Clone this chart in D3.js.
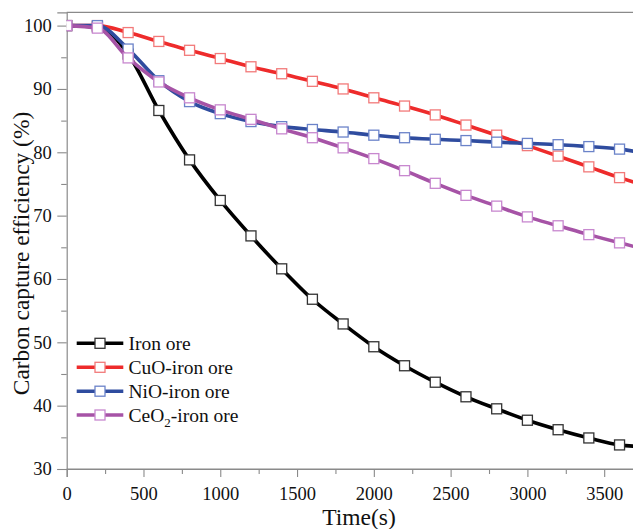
<!DOCTYPE html>
<html>
<head>
<meta charset="utf-8">
<script src="https://cdn.jsdelivr.net/npm/d3@7"></script>
<style>
  html, body { margin: 0; padding: 0; background: #fff; }
  svg { display: block; }
  text { font-family: "Liberation Serif", "Times New Roman", serif; fill: #111; }
</style>
</head>
<body>
<svg id="chart" width="633" height="529"></svg>
<script>
// Sampling times (s)
const times = [0, 200, 400, 600, 800, 1000, 1200, 1400, 1600, 1800, 2000,
               2200, 2400, 2600, 2800, 3000, 3200, 3400, 3600, 3800];

// Carbon capture efficiency (%) per sorbent
const ironOre = [100, 99.8, 95.5, 86.6, 78.8, 72.4, 66.8, 61.6, 56.8, 52.9, 49.3,
                 46.3, 43.7, 41.4, 39.5, 37.7, 36.2, 34.9, 33.8, 33.5];
const cuoIronOre = [100, 100, 98.9, 97.5, 96.1, 94.8, 93.5, 92.4, 91.2, 90.0, 88.6,
                    87.3, 85.9, 84.3, 82.7, 81.05, 79.4, 77.7, 76.0, 74.5];
const nioIronOre = [100, 100, 96.3, 91.3, 88.0, 86.1, 84.85, 84.05, 83.6, 83.2, 82.7,
                    82.3, 82.05, 81.85, 81.6, 81.4, 81.2, 80.9, 80.5, 79.7];
const ceo2IronOre = [100, 99.6, 94.9, 91.1, 88.6, 86.7, 85.2, 83.7, 82.3, 80.7, 79.0,
                     77.1, 75.1, 73.2, 71.5, 69.8, 68.4, 67.0, 65.7, 64.5];

const seriesNames = ["Iron ore", "CuO-iron ore", "NiO-iron ore", "CeO2-iron ore"];
const seriesValues = [ironOre, cuoIronOre, nioIronOre, ceo2IronOre];
const lineColors = ["#000000", "#ee2b2b", "#2f4c9f", "#a653a6"];
const markerColors = ["#333333", "#f27a7a", "#6b83c9", "#c888cf"];

const xTicks = [0, 500, 1000, 1500, 2000, 2500, 3000, 3500];
const yTicks = [30, 40, 50, 60, 70, 80, 90, 100];

const svg = d3.select("#chart");
const plotLeft = 66.7, plotTop = 12.3, plotBottom = 469, plotRight = 634.9;

const x = d3.scaleLinear().domain([0, 3700]).range([plotLeft, plotRight]);
const y = d3.scaleLinear().domain([30, 102.1]).range([plotBottom, plotTop]);

svg.append("defs").append("clipPath").attr("id", "plotClip")
  .append("rect").attr("x", plotLeft).attr("y", plotTop - 8)
  .attr("width", 633 - plotLeft).attr("height", plotBottom - plotTop + 16);

const axisColor = "#8a8a8a";

// Frame top edge
svg.append("line").attr("x1", plotLeft).attr("x2", 633).attr("y1", plotTop).attr("y2", plotTop)
  .attr("stroke", axisColor).attr("stroke-width", 1.2);

// X axis: major ticks with labels, minor ticks in between
svg.append("g").attr("transform", `translate(0,${plotBottom})`)
  .call(d3.axisBottom(x).tickValues(xTicks).tickSize(8).tickPadding(9.5).tickFormat(d3.format("d")));
svg.append("g").attr("transform", `translate(0,${plotBottom})`)
  .call(d3.axisBottom(x).tickValues(d3.range(250, 3700, 500)).tickSize(5).tickFormat(""))
  .call(g => g.select(".domain").remove());

// Y axis
svg.append("g").attr("transform", `translate(${plotLeft},0)`)
  .call(d3.axisLeft(y).tickValues(yTicks).tickSize(9.4).tickPadding(5.6).tickFormat(d3.format("d")));
svg.append("g").attr("transform", `translate(${plotLeft},0)`)
  .call(d3.axisLeft(y).tickValues(d3.range(35, 101, 10)).tickSize(5.5).tickFormat(""))
  .call(g => g.select(".domain").remove());

svg.selectAll(".domain").attr("stroke", axisColor).attr("stroke-width", 1.2);
svg.selectAll(".tick line").attr("stroke", axisColor).attr("stroke-width", 1.1);
svg.selectAll(".tick text").attr("font-family", "Liberation Serif, serif")
  .attr("font-size", 18.5).attr("fill", "#111");
// bottom axis line runs to the right edge
svg.append("line").attr("x1", plotLeft).attr("x2", 633).attr("y1", plotBottom).attr("y2", plotBottom)
  .attr("stroke", axisColor).attr("stroke-width", 1.2);

// Axis titles
svg.append("text").attr("x", 359).attr("y", 524.5)
  .attr("text-anchor", "middle").attr("font-size", 23.5).text("Time(s)");
svg.append("text")
  .attr("transform", "translate(28.5,253.5) rotate(-90)")
  .attr("text-anchor", "middle").attr("font-size", 23.4)
  .text("Carbon capture efficiency (%)");

// Series lines and markers
const plot = svg.append("g").attr("clip-path", "url(#plotClip)");
const line = d3.line().x((d, i) => x(times[i])).y(d => y(d)).curve(d3.curveMonotoneX);
const ms = 10;

seriesValues.forEach((vals, k) => {
  const g = plot.append("g");
  g.append("path").datum(vals).attr("d", line)
    .attr("fill", "none").attr("stroke", lineColors[k])
    .attr("stroke-width", 3.6).attr("stroke-linejoin", "round");
  g.selectAll("rect").data(vals).join("rect")
    .attr("x", (d, i) => x(times[i]) - ms / 2)
    .attr("y", d => y(d) - ms / 2)
    .attr("width", ms).attr("height", ms)
    .attr("fill", "#fff").attr("stroke", markerColors[k]).attr("stroke-width", 1.3);
});

// Legend
const legend = svg.append("g");
const legendY = [343.3, 367.3, 391.2, 415];
seriesNames.forEach((name, k) => {
  const ly = legendY[k];
  legend.append("line").attr("x1", 76.7).attr("x2", 123.3).attr("y1", ly).attr("y2", ly)
    .attr("stroke", lineColors[k]).attr("stroke-width", 3.6);
  legend.append("rect").attr("x", 100 - ms / 2).attr("y", ly - ms / 2)
    .attr("width", ms).attr("height", ms)
    .attr("fill", "#fff").attr("stroke", markerColors[k]).attr("stroke-width", 1.3);
  const t = legend.append("text").attr("x", 128.5).attr("y", ly + 6.5).attr("font-size", 19.5);
  if (name === "CeO2-iron ore") {
    t.append("tspan").text("CeO");
    t.append("tspan").attr("font-size", 13).attr("dy", 5).text("2");
    t.append("tspan").attr("dy", -5).text("-iron ore");
  } else {
    t.text(name);
  }
});
</script>
</body>
</html>
